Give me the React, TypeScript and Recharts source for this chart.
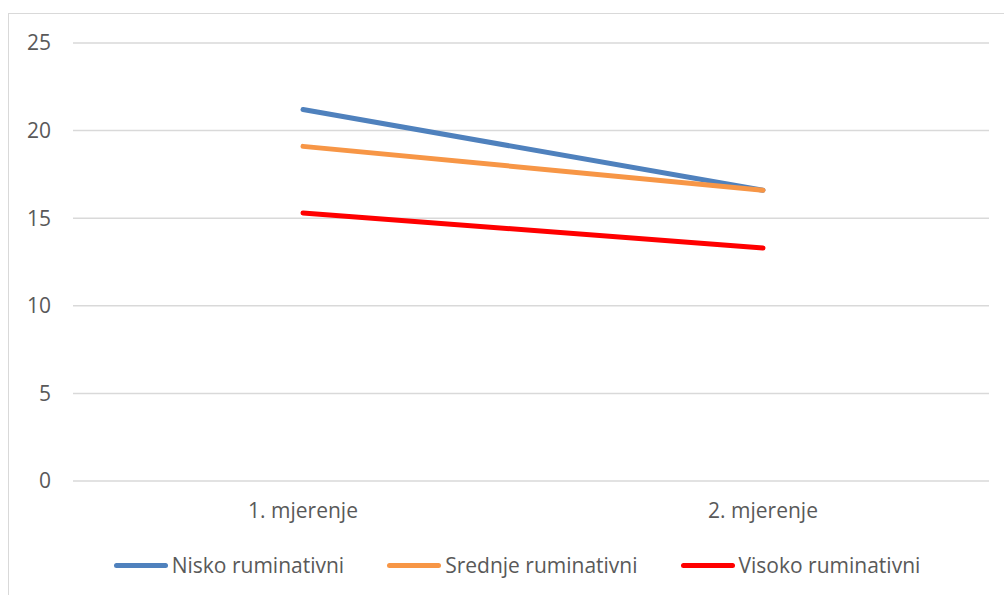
import { LineChart, Line, XAxis, YAxis, CartesianGrid } from 'recharts'

const categories = ['1. mjerenje', '2. mjerenje']
const nisko = [21.2, 16.6]
const srednje = [19.1, 16.6]
const visoko = [15.3, 13.3]
const yTicks = [0, 5, 10, 15, 20, 25]

const series = [
  { key: 'nisko', name: 'Nisko ruminativni', color: '#4F81BD' },
  { key: 'srednje', name: 'Srednje ruminativni', color: '#F79646' },
  { key: 'visoko', name: 'Visoko ruminativni', color: '#FF0000' },
]

const data = categories.map((c, i) => ({
  name: c,
  nisko: nisko[i],
  srednje: srednje[i],
  visoko: visoko[i],
}))

const FONT = '"Open Sans", sans-serif'
const TEXT = '#595959'

function ChartLegend() {
  return (
    <div
      style={{
        position: 'absolute',
        left: 0,
        top: 551,
        width: 1034,
        display: 'flex',
        justifyContent: 'center',
        gap: '43px',
        fontFamily: FONT,
        fontSize: '21px',
        color: TEXT,
      }}
    >
      {series.map((s) => (
        <div key={s.key} style={{ display: 'flex', alignItems: 'center', gap: '4px' }}>
          <div
            style={{
              width: '54px',
              height: '5px',
              borderRadius: '3px',
              background: s.color,
            }}
          />
          <span>{s.name}</span>
        </div>
      ))}
    </div>
  )
}

export default function App() {
  return (
    <div style={{ position: 'absolute', left: 0, top: 0, width: 1004, height: 595, overflow: 'hidden', background: '#fff' }}>
      <div
        style={{
          position: 'absolute',
          left: 8,
          top: 13,
          width: 1100,
          height: 700,
          border: '1px solid #D9D9D9',
        }}
      />
      <div style={{ position: 'absolute', left: 0, top: 0 }}>
        <LineChart
          width={1004}
          height={595}
          data={data}
          margin={{ top: 43, right: 15, bottom: 84, left: 0 }}
        >
          <CartesianGrid stroke="#D9D9D9" strokeWidth={1.5} vertical={false} />
          <XAxis
            dataKey="name"
            height={30}
            axisLine={false}
            tickLine={false}
            tickSize={0}
            tickMargin={22}
            padding={{ left: 230, right: 226 }}
            tick={{ fill: TEXT, fontSize: 21, fontFamily: FONT }}
          />
          <YAxis
            domain={[0, 25]}
            ticks={yTicks}
            width={73}
            axisLine={false}
            tickLine={false}
            tickSize={0}
            tickMargin={22}
            tick={{ fill: TEXT, fontSize: 21, fontFamily: FONT }}
          />
          {series.map((s) => (
            <Line
              key={s.key}
              dataKey={s.key}
              name={s.name}
              stroke={s.color}
              strokeWidth={5}
              strokeLinecap="round"
              dot={false}
              activeDot={false}
              type="linear"
              isAnimationActive={false}
            />
          ))}
        </LineChart>
      </div>
      <ChartLegend />
    </div>
  )
}
